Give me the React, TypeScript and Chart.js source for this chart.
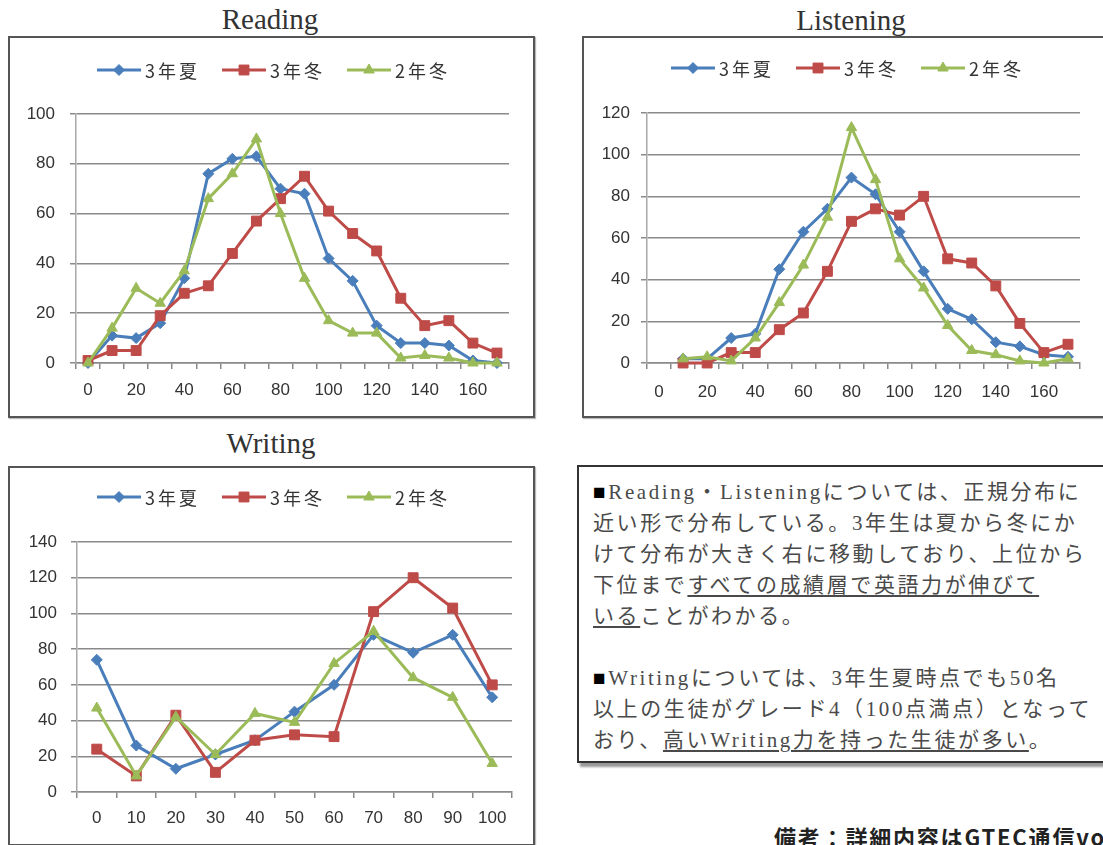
import React, { useEffect, useRef } from 'react';
import { Chart, registerables } from 'chart.js';

Chart.register(...registerables);

// ---------- data ----------
const seriesNames = ['3年夏', '3年冬', '2年冬'];

const readingCategories = ['0', '10', '20', '30', '40', '50', '60', '70', '80', '90', '100', '110', '120', '130', '140', '150', '160', '170'];
const readingSummer3 = [0, 11, 10, 16, 34, 76, 82, 83, 70, 68, 42, 33, 15, 8, 8, 7, 1, 0];
const readingWinter3 = [1, 5, 5, 19, 28, 31, 44, 57, 66, 75, 61, 52, 45, 26, 15, 17, 8, 4];
const readingWinter2 = [0, 14, 30, 24, 37, 66, 76, 90, 60, 34, 17, 12, 12, 2, 3, 2, 0, 0];

const listeningCategories = ['0', '10', '20', '30', '40', '50', '60', '70', '80', '90', '100', '110', '120', '130', '140', '150', '160', '170'];
const listeningSummer3 = [null, 2, 2, 12, 14, 45, 63, 74, 89, 81, 63, 44, 26, 21, 10, 8, 4, 3];
const listeningWinter3 = [null, 0, 0, 5, 5, 16, 24, 44, 68, 74, 71, 80, 50, 48, 37, 19, 5, 9];
const listeningWinter2 = [null, 2, 3, 1, 12, 29, 47, 70, 113, 88, 50, 36, 18, 6, 4, 1, 0, 2];

const writingCategories = ['0', '10', '20', '30', '40', '50', '60', '70', '80', '90', '100'];
const writingSummer3 = [74, 26, 13, 21, 29, 45, 60, 88, 78, 88, 53];
const writingWinter3 = [24, 9, 43, 11, 29, 32, 31, 101, 120, 103, 60];
const writingWinter2 = [47, 9, 42, 21, 44, 39, 72, 90, 64, 53, 16];

// ---------- styles ----------
const BLUE = '#4a7ebb';
const RED = '#be4b48';
const GREEN = '#9bbb59';
const GRID = '#8a8a8a';
const TICK_FONT = { family: '"Liberation Sans", Arial, sans-serif', size: 17 };

function drawMarker(ctx: CanvasRenderingContext2D, style: string, x: number, y: number, r: number, fill: string, stroke: string) {
  ctx.save();
  ctx.fillStyle = fill;
  ctx.strokeStyle = stroke;
  ctx.lineWidth = 1;
  ctx.beginPath();
  if (style === 'rectRot') {
    ctx.moveTo(x, y - r);
    ctx.lineTo(x + r, y);
    ctx.lineTo(x, y + r);
    ctx.lineTo(x - r, y);
    ctx.closePath();
  } else if (style === 'rect') {
    const s = r * Math.SQRT1_2;
    ctx.rect(x - s, y - s, 2 * s, 2 * s);
  } else {
    for (let i = 0; i < 3; i++) {
      const a = -Math.PI / 2 + (i * 2 * Math.PI) / 3;
      const px = x + Math.cos(a) * r;
      const py = y + Math.sin(a) * r;
      if (i === 0) ctx.moveTo(px, py);
      else ctx.lineTo(px, py);
    }
    ctx.closePath();
  }
  ctx.fill();
  ctx.stroke();
  ctx.restore();
}

const lineMarkerLegend = {
  id: 'lineMarkerLegend',
  afterDraw(chart: any, _args: any, opts: any) {
    const ctx: CanvasRenderingContext2D = chart.ctx;
    const ds = chart.data.datasets;
    ctx.save();
    ctx.font = opts.font;
    (ctx as any).letterSpacing = opts.letterSpacing;
    const lineLen = opts.lineLen;
    const gap = opts.gap;
    const itemGap = opts.itemGap;
    const widths = ds.map((d: any) => ctx.measureText(d.label).width);
    const total = widths.reduce((a: number, b: number) => a + b, 0) + ds.length * (lineLen + gap) + (ds.length - 1) * itemGap;
    let x = (chart.width - total) / 2 + opts.shift;
    const y = opts.y;
    ds.forEach((d: any, i: number) => {
      ctx.strokeStyle = d.borderColor;
      ctx.lineWidth = d.borderWidth;
      ctx.beginPath();
      ctx.moveTo(x, y);
      ctx.lineTo(x + lineLen, y);
      ctx.stroke();
      drawMarker(ctx, d.pointStyle, x + lineLen / 2, y, d.pointRadius, d.pointBackgroundColor, d.pointBorderColor);
      ctx.fillStyle = opts.color;
      ctx.textAlign = 'left';
      ctx.textBaseline = 'middle';
      ctx.fillText(d.label, x + lineLen + gap, y + 1);
      x += lineLen + gap + widths[i] + itemGap;
    });
    ctx.restore();
  },
};

type ChartProps = {
  categories: string[];
  summer3: (number | null)[];
  winter3: (number | null)[];
  winter2: (number | null)[];
  yMax: number;
  labelEvery: number;
  width: number;
  height: number;
  yAxisWidth: number;
  xAxisHeight: number;
  padTop: number;
  padRight: number;
  yTickPad: number;
  xTickPad: number;
  legendY: number;
};

function makeDataset(label: string, data: (number | null)[], color: string, style: string, radius: number, order: number) {
  return {
    label,
    data,
    borderColor: color,
    backgroundColor: color,
    pointBackgroundColor: color,
    pointBorderColor: color,
    pointStyle: style,
    pointRadius: radius,
    pointBorderWidth: 1,
    borderWidth: 3,
    tension: 0,
    clip: false as any,
    order,
  };
}

function LineChart(p: ChartProps) {
  const ref = useRef<HTMLCanvasElement | null>(null);
  useEffect(() => {
    if (!ref.current) return;
    const chart = new Chart(ref.current, {
      type: 'line',
      data: {
        labels: p.categories,
        datasets: [
          makeDataset(seriesNames[0], p.summer3, BLUE, 'rectRot', 5.5, 3),
          makeDataset(seriesNames[1], p.winter3, RED, 'rect', 7, 2),
          makeDataset(seriesNames[2], p.winter2, GREEN, 'triangle', 6, 1),
        ] as any,
      },
      plugins: [lineMarkerLegend as any],
      options: {
        responsive: false,
        animation: false,
        devicePixelRatio: 1,
        layout: { padding: { left: 0, right: p.padRight, top: p.padTop, bottom: 0 } },
        plugins: {
          legend: { display: false },
          tooltip: { enabled: false },
          lineMarkerLegend: {
            y: p.legendY,
            font: '18px "Noto Sans CJK JP", sans-serif',
            letterSpacing: '3px',
            lineLen: 44,
            gap: 4,
            itemGap: 22,
            shift: 2,
            color: '#333333',
          },
        } as any,
        scales: {
          x: {
            type: 'category',
            offset: true,
            grid: {
              offset: true,
              drawOnChartArea: false,
              drawTicks: true,
              tickLength: 6,
              color: GRID,
              lineWidth: 1.5,
            },
            border: { display: true, color: GRID, width: 1.5 },
            ticks: {
              autoSkip: false,
              maxRotation: 0,
              minRotation: 0,
              padding: p.xTickPad,
              color: '#333333',
              font: TICK_FONT,
              callback: (_v: any, i: number) => (i % p.labelEvery === 0 ? p.categories[i] : ''),
            },
            afterFit: (s: any) => {
              s.height = p.xAxisHeight;
            },
          },
          y: {
            min: 0,
            max: p.yMax,
            ticks: { stepSize: 20, padding: p.yTickPad, color: '#333333', font: TICK_FONT },
            grid: { color: GRID, lineWidth: 1.5, drawTicks: true, tickLength: 6 },
            border: { display: true, color: '#a8a8a8', width: 1.5 },
            afterFit: (s: any) => {
              s.width = p.yAxisWidth;
            },
          },
        },
      },
    });
    return () => chart.destroy();
  }, []);
  return <canvas ref={ref} width={p.width} height={p.height} style={{ display: 'block' }} />;
}

const titleStyle: React.CSSProperties = {
  position: 'absolute',
  fontFamily: '"Liberation Serif", "Times New Roman", serif',
  fontSize: 29,
  lineHeight: '29px',
  color: '#333',
  whiteSpace: 'nowrap',
  transform: 'translateX(-50%)',
};

const boxStyle: React.CSSProperties = {
  position: 'absolute',
  border: '2px solid #555',
  background: '#fff',
  boxShadow: '1px 1px 1px #bbb',
};

const textLine: React.CSSProperties = {
  whiteSpace: 'nowrap',
  height: 31,
  lineHeight: '31px',
};

const ul: React.CSSProperties = { textDecoration: 'underline', textUnderlineOffset: '3px' };

export default function App() {
  return (
    <div
      style={{
        position: 'fixed',
        left: 0,
        top: 0,
        width: 1103,
        height: 845,
        overflow: 'hidden',
        background: '#fff',
      }}
    >
      <div style={{ ...titleStyle, left: 270, top: 5 }}>Reading</div>
      <div style={{ ...boxStyle, left: 8, top: 36, width: 523, height: 378 }}>
        <LineChart
          categories={readingCategories}
          summer3={readingSummer3}
          winter3={readingWinter3}
          winter2={readingWinter2}
          yMax={100}
          labelEvery={2}
          width={523}
          height={378}
          yAxisWidth={66}
          xAxisHeight={53}
          padTop={76}
          padRight={24}
          yTickPad={15}
          xTickPad={11}
          legendY={32}
        />
      </div>

      <div style={{ ...titleStyle, left: 851, top: 6 }}>Listening</div>
      <div style={{ ...boxStyle, left: 582, top: 36, width: 523, height: 378 }}>
        <LineChart
          categories={listeningCategories}
          summer3={listeningSummer3}
          winter3={listeningWinter3}
          winter2={listeningWinter2}
          yMax={120}
          labelEvery={2}
          width={523}
          height={378}
          yAxisWidth={63}
          xAxisHeight={53}
          padTop={75}
          padRight={27}
          yTickPad={11}
          xTickPad={13}
          legendY={30}
        />
      </div>

      <div style={{ ...titleStyle, left: 271, top: 429 }}>Writing</div>
      <div style={{ ...boxStyle, left: 8, top: 466, width: 523, height: 376 }}>
        <LineChart
          categories={writingCategories}
          summer3={writingSummer3}
          winter3={writingWinter3}
          winter2={writingWinter2}
          yMax={140}
          labelEvery={1}
          width={523}
          height={376}
          yAxisWidth={67}
          xAxisHeight={52}
          padTop={74}
          padRight={21}
          yTickPad={14}
          xTickPad={10}
          legendY={29}
        />
      </div>

      <div
        style={{
          position: 'absolute',
          left: 577,
          top: 465,
          width: 540,
          height: 294,
          border: '2px solid #333',
          boxShadow: '3px 4px 2px #999',
          background: '#fff',
        }}
      >
        <div
          style={{
            position: 'absolute',
            left: 14,
            top: 10,
            fontFamily: '"Liberation Serif", "Noto Sans CJK JP", serif',
            fontSize: 21,
            letterSpacing: '2.6px',
            color: '#4a4a4a',
          }}
        >
          <div style={textLine}>
            <span style={{ color: '#000' }}>■</span>Reading・Listeningについては、正規分布に
          </div>
          <div style={textLine}>近い形で分布している。3年生は夏から冬にか</div>
          <div style={textLine}>けて分布が大きく右に移動しており、上位から</div>
          <div style={textLine}>
            下位まで<span style={ul}>すべての成績層で英語力が伸びて</span>
          </div>
          <div style={textLine}>
            <span style={ul}>いる</span>ことがわかる。
          </div>
          <div style={textLine}></div>
          <div style={textLine}>
            <span style={{ color: '#000' }}>■</span>Writingについては、3年生夏時点でも50名
          </div>
          <div style={textLine}>以上の生徒がグレード4（100点満点）となって</div>
          <div style={textLine}>
            おり、<span style={ul}>高いWriting力を持った生徒が多い</span>。
          </div>
        </div>
      </div>

      <div
        style={{
          position: 'absolute',
          left: 774,
          top: 823,
          fontFamily: '"Noto Sans CJK JP", sans-serif',
          fontWeight: 700,
          fontSize: 22,
          lineHeight: '26px',
          letterSpacing: '1.8px',
          color: '#222',
          whiteSpace: 'nowrap',
        }}
      >
        備考：詳細内容はGTEC通信vo
      </div>
    </div>
  );
}
